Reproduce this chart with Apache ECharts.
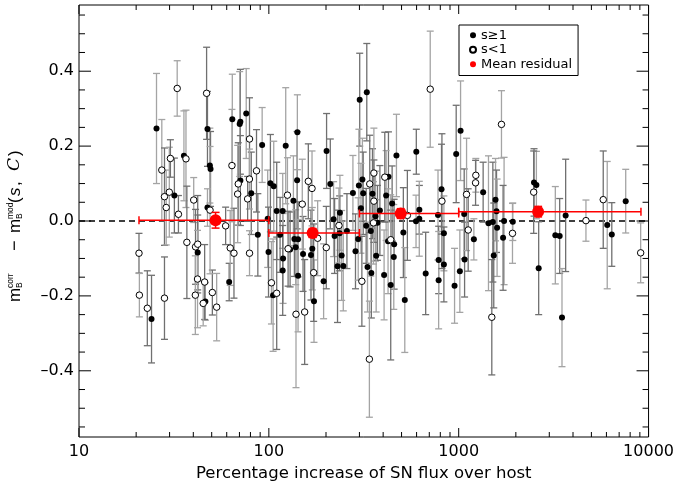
<!DOCTYPE html>
<html><head><meta charset="utf-8">
<script src="https://cdn.jsdelivr.net/npm/echarts@6/dist/echarts.min.js"></script>
<style>html,body{margin:0;padding:0;background:#fff}#c{width:677px;height:487px}</style>
</head><body><div id="c"></div>
<script>
// ---- data: s>=1 (filled) ----
const filledX = [24.1,25.6,31.8,35.7,42.2,46.3,47.5,48.9,49.3,47.5,61.8,64.2,70.8,70.2,70.8,76.0,80.8,92.2,87.5,
 98.6,99.6,105.3,101.9,106.1,110,118.3,114.6,118.8,118.3,122.7,129.4,134.7,136.3,138.5,140.9,141.3,142.5,142.5,151.4,
 169.4,166.7,172.9,201.4,194.3,210.7,219.3,222,236.8,235.9,241.8,230,246.6,257.8,277.2,286,295.6,301,298,
 328,311,314,305.5,325.6,330.9,346.6,344.5,351.4,364.4,373.4,367.5,384.5,404.6,426.6,414.8,446,424.5,457,455,438.5,
 470,511,520,598,596,620.6,620,670,778,784,784,812,835.6,835.6,951,970,
 1023,1069,1014,1074,1202,1345,1435,1513,1563,1582,1593,1530,1734,1713,1927,2493,2566,2638,3228,3403,3500,3659,6058,6403,7580];
const filledY = [-0.262,0.247,0.068,0.174,-0.084,-0.215,0.246,0.148,0.139,0.036,-0.163,0.272,0.265,0.259,0.108,0.287,0.074,0.203,-0.037,
 0.006,-0.083,-0.198,0.101,0.093,0.027,0.027,-0.037,-0.100,-0.132,0.201,-0.076,0.054,-0.048,-0.070,0.109,0.237,-0.049,-0.146,-0.088,
 -0.074,-0.091,-0.214,0.187,-0.161,0.099,0.005,-0.040,0.022,-0.033,-0.092,-0.121,-0.120,-0.027,0.075,-0.081,-0.048,0.324,0.095,
 0.344,0.111,0.074,0.034,-0.013,-0.123,-0.139,-0.027,0.073,0.013,-0.005,-0.093,0.028,-0.144,0.118,0.068,0.047,-0.054,-0.062,-0.096,-0.171,
 0.175,-0.031,-0.211,0.185,-0.001,0.030,0.006,-0.140,0.016,-0.104,-0.158,0.085,-0.033,-0.116,-0.173,0.179,
 0.241,0.019,-0.134,-0.103,-0.049,0.077,-0.006,-0.003,0.057,0.026,-0.018,-0.092,0.000,-0.045,-0.002,0.103,0.096,-0.126,-0.038,-0.040,-0.258,0.015,-0.011,-0.036,0.053];
const filledErr = [0.117,0.147,0.10,0.12,0.10,0.05,0.10,0.10,0.10,0.05,0.05,0.12,0.14,0.14,0.12,0.12,0.11,0.10,0.11,
 0.13,0.12,0.15,0.13,0.12,0.13,0.10,0.10,0.12,0.12,0.155,0.10,0.12,0.10,0.10,0.13,0.10,0.10,0.15,0.10,
 0.11,0.12,0.11,0.10,0.10,0.12,0.10,0.10,0.10,0.10,0.12,0.15,0.12,0.10,0.10,0.10,0.11,0.124,0.15,
 0.13,0.11,0.11,0.12,0.10,0.12,0.12,0.12,0.12,0.12,0.10,0.15,0.12,0.12,0.12,0.12,0.10,0.14,0.12,0.14,0.20,
 0.11,0.12,0.14,0.06,0.07,0.065,0.10,0.11,0.12,0.09,0.13,0.12,0.10,0.10,0.10,0.13,
 0.133,0.12,0.11,0.10,0.055,0.08,0.18,0.16,0.11,0.11,0.13,0.14,0.17,0.14,0.05,0.09,0.09,0.124,0.13,0.10,0.131,0.15,0.17,0.085,0.085];

// ---- data: s<1 (open) ----
const openX = [20.7,20.8,22.9,27.3,28.2,28.8,28.2,29.9,30.3,32.9,33.4,36.6,37.0,40.2,41.1,41.0,42.2,42.1,45.9,45.1,50.4,53.1,47.0,49.0,
 59.2,62.6,65.5,63.9,69.0,68.5,79.1,79.0,77.3,79.1,86.1,
 103.2,110,125.3,126.3,139,154.4,150,161.4,168.8,172.2,180.7,200.7,234,
 309,338.5,340,357.5,357.5,355.7,408,438.5,536.6,708,816,
 1100,1122,1231,1227,1680,1494,1920,2483,4680,5772,9088];
const openY = [-0.086,-0.198,-0.233,0.136,0.065,0.036,-0.206,0.077,0.167,0.354,0.018,0.166,-0.057,0.056,-0.069,-0.198,-0.062,-0.155,-0.163,-0.220,-0.191,-0.230,0.341,0.029,
 -0.013,-0.072,-0.086,0.148,0.099,0.072,0.219,0.112,0.059,-0.086,0.134,
 -0.165,-0.193,0.069,-0.074,-0.249,-0.243,0.045,0.106,0.087,-0.138,-0.046,-0.071,-0.012,
 -0.161,-0.369,0.099,0.128,0.053,-0.005,0.117,-0.050,0.015,0.352,0.053,
 0.071,-0.024,0.122,0.102,0.258,-0.257,-0.033,0.077,0.001,0.057,-0.085];
const openErr = [0.053,0.058,0.10,0.135,0.13,0.10,0.11,0.12,0.05,0.074,0.05,0.13,0.15,0.06,0.10,0.105,0.13,0.13,0.10,0.06,0.06,0.09,0.123,0.17,
 0.05,0.10,0.12,0.15,0.11,0.13,0.11,0.08,0.06,0.06,0.11,
 0.11,0.15,0.10,0.10,0.196,0.14,0.12,0.10,0.10,0.13,0.10,0.11,0.10,
 0.12,0.155,0.13,0.12,0.11,0.11,0.12,0.12,0.12,0.155,0.18,
 0.15,0.11,0.045,0.06,0.09,0.154,0.08,0.11,0.055,0.13,0.08];

// ---- data: mean residual per bin ----
const meanX = [52.4, 170, 495, 2620];
const meanY = [0.002, -0.032, 0.020, 0.025];
const meanYErr = [0.021, 0.012, 0.013, 0.014];
const meanXLo = [20.7, 100, 300, 1000];
const meanXHi = [100, 300, 1000, 9120];

// ---- ticks ----
const xMajorTicks = [10, 100, 1000, 10000];
const xMinorTicks = [20,30,40,50,60,70,80,90,200,300,400,500,600,700,800,900,2000,3000,4000,5000,6000,7000,8000,9000];
const yMajorTicks = [-0.4, -0.2, 0.0, 0.2, 0.4];
const yMinorTicks = [-0.55,-0.5,-0.45,-0.35,-0.3,-0.25,-0.15,-0.1,-0.05,0.05,0.1,0.15,0.25,0.3,0.35,0.45,0.5,0.55];
const Y_MIN = -0.5768, Y_MAX = 0.5768;
const X_MIN = 10, X_MAX = 10000;

function zip(...arrs) { return arrs[0].map((_, i) => arrs.map(a => a[i])); }

function errRender(params, api) {
  const x = api.value(0), y = api.value(1), e = api.value(2);
  const t = api.coord([x, y + e]), b = api.coord([x, y - e]);
  const col = params.dataIndex % 2 ? '#a4a4a4' : '#707070';
  const st = { stroke: col, lineWidth: 1.3 };
  const px = t[0];
  return { type: 'group', children: [
    { type: 'line', shape: { x1: px, y1: t[1], x2: px, y2: b[1] }, style: st },
    { type: 'line', shape: { x1: px - 3.5, y1: t[1], x2: px + 3.5, y2: t[1] }, style: st },
    { type: 'line', shape: { x1: px - 3.5, y1: b[1], x2: px + 3.5, y2: b[1] }, style: st }
  ]};
}

function meanRender(params, api) {
  const x = api.value(0), y = api.value(1), ye = api.value(2), xl = api.value(3), xh = api.value(4);
  const L = api.coord([xl, y]), H = api.coord([xh, y]);
  const T = api.coord([x, y + ye]), B = api.coord([x, y - ye]);
  const st = { stroke: '#ff0000', lineWidth: 1.5 };
  return { type: 'group', children: [
    { type: 'line', shape: { x1: L[0], y1: L[1], x2: H[0], y2: H[1] }, style: st },
    { type: 'line', shape: { x1: L[0], y1: L[1] - 4, x2: L[0], y2: L[1] + 4 }, style: st },
    { type: 'line', shape: { x1: H[0], y1: H[1] - 4, x2: H[0], y2: H[1] + 4 }, style: st },
    { type: 'line', shape: { x1: T[0], y1: T[1], x2: B[0], y2: B[1] }, style: st },
    { type: 'line', shape: { x1: T[0] - 4, y1: T[1], x2: T[0] + 4, y2: T[1] }, style: st },
    { type: 'line', shape: { x1: B[0] - 4, y1: B[1], x2: B[0] + 4, y2: B[1] }, style: st }
  ]};
}

function fmtY(v) {
  const s = Math.abs(v).toFixed(1);
  return v < -1e-9 ? '\u2013' + s : s;
}

function tickRender(params, api) {
  const kind = api.value(2);
  const cs = params.coordSys;
  const st = { stroke: '#000', lineWidth: 1 };
  const left = cs.x, right = cs.x + cs.width, top = cs.y, bottom = cs.y + cs.height;
  if (kind < 2) {
    const px = api.coord([api.value(0), 0])[0];
    const len = kind === 0 ? 9 : 5;
    return { type: 'group', children: [
      { type: 'line', shape: { x1: px, y1: bottom, x2: px, y2: bottom - len }, style: st },
      { type: 'line', shape: { x1: px, y1: top, x2: px, y2: top + len }, style: st }
    ]};
  }
  const v = api.value(1);
  const py = api.coord([X_MIN, v])[1];
  const len = kind === 2 ? 12 : 6;
  const ch = [
    { type: 'line', shape: { x1: left, y1: py, x2: left + len, y2: py }, style: st },
    { type: 'line', shape: { x1: right, y1: py, x2: right - len, y2: py }, style: st }
  ];
  if (kind === 2) {
    ch.push({ type: 'text', x: left - 5, y: py, style: { text: fmtY(v), align: 'right', verticalAlign: 'middle',
      textAlign: 'right', textVerticalAlign: 'middle', fontSize: 16, fontFamily: 'DejaVu Sans', fill: '#000' } });
  }
  return { type: 'group', children: ch };
}

const tickData = xMajorTicks.map(v => [v, 0, 0])
  .concat(xMinorTicks.map(v => [v, 0, 1]))
  .concat(yMajorTicks.map(v => [X_MIN, v, 2]))
  .concat(yMinorTicks.map(v => [X_MIN, v, 3]));

// y-axis title pieces (rotated group)
function tpiece(text, x, base, fs, opts) {
  opts = opts || {};
  return { type: 'text', x: x, y: base - 0.35 * fs,
    style: Object.assign({ text: text, fontSize: fs, fontFamily: 'Liberation Sans', fill: '#000',
      align: 'left', verticalAlign: 'middle', textAlign: 'left', textVerticalAlign: 'middle' }, opts) };
}

const chart = echarts.init(document.getElementById('c'), null, { renderer: 'canvas' });
chart.setOption({
  animation: false,
  backgroundColor: '#fff',
  grid: { left: 79, right: 27, top: 5, bottom: 50, show: true, borderColor: '#000', borderWidth: 1, backgroundColor: 'transparent' },
  xAxis: {
    type: 'log', logBase: 10, min: X_MIN, max: X_MAX,
    axisLine: { show: false }, axisTick: { show: false }, splitLine: { show: false },
    axisLabel: { fontFamily: 'DejaVu Sans', fontSize: 16, color: '#000', margin: 7, formatter: v => String(Math.round(v)) },
    name: 'Percentage increase of SN flux over host', nameLocation: 'middle', nameGap: 26,
    nameTextStyle: { fontFamily: 'DejaVu Sans', fontSize: 16.5, color: '#000' }
  },
  yAxis: {
    type: 'value', min: Y_MIN, max: Y_MAX,
    axisLine: { show: false }, axisTick: { show: false }, splitLine: { show: false },
    axisLabel: { show: false }
  },
  legend: {
    left: 459, top: 25, orient: 'vertical', selectedMode: false,
    padding: [3, 6, 4, 10], itemGap: 0, itemWidth: 6, itemHeight: 6,
    borderColor: '#000', borderWidth: 1, backgroundColor: '#fff',
    textStyle: { fontFamily: 'DejaVu Sans', fontSize: 13, color: '#000', lineHeight: 14.5 },
    data: [{ name: 's\u22651', icon: 'circle' }, { name: 's<1', icon: 'circle' }, { name: 'Mean residual', icon: 'circle' }]
  },
  graphic: [{
    type: 'group', x: 21, y: 302, rotation: Math.PI / 2, silent: true,
    children: [
      tpiece('m', 0, 0, 17),
      tpiece('corr', 14, -7.5, 8.5),
      tpiece('B', 14, 1.5, 8.5),
      tpiece('\u2212', 51, 0, 18),
      tpiece('m', 69, 0, 17),
      tpiece('mod', 83, -7.5, 8.5),
      tpiece('B', 83, 1.5, 8.5),
      tpiece('(', 99, 0, 17),
      tpiece('s', 106, 0, 17, { fontStyle: 'italic' }),
      tpiece(',', 116, 0, 17),
      tpiece('C', 131, 0, 17, { fontStyle: 'italic', fontFamily: 'DejaVu Serif' }),
      tpiece(')', 146, 0, 17)
    ]
  }],
  series: [
    { type: 'line', data: [[X_MIN, 0], [X_MAX, 0]], symbol: 'none', silent: true, z: 1,
      lineStyle: { color: '#000', width: 1.3, type: [6, 4] } },
    { type: 'custom', renderItem: errRender, data: zip(filledX, filledY, filledErr), silent: true, z: 2,
      encode: { x: 0, y: 1 } },
    { type: 'custom', renderItem: errRender, data: zip(openX, openY, openErr), silent: true, z: 2,
      encode: { x: 0, y: 1 } },
    { name: 's\u22651', type: 'scatter', data: zip(filledX, filledY), symbol: 'circle', symbolSize: 6, z: 3,
      itemStyle: { color: '#000', opacity: 1 }, silent: true },
    { name: 's<1', type: 'scatter', data: zip(openX, openY), symbol: 'circle', symbolSize: 6.5, z: 3,
      itemStyle: { color: '#fff', borderColor: '#000', borderWidth: 1, opacity: 1 }, silent: true },
    { type: 'custom', renderItem: meanRender, data: zip(meanX, meanY, meanYErr, meanXLo, meanXHi), silent: true, z: 4,
      encode: { x: 0, y: 1 } },
    { name: 'Mean residual', type: 'scatter', data: zip(meanX, meanY), symbol: 'circle', symbolSize: 12, z: 5,
      itemStyle: { color: '#ff0000', opacity: 1 }, silent: true },
    { type: 'custom', renderItem: tickRender, data: tickData, silent: true, z: 6, clip: false,
      encode: { x: 0, y: 1 } }
  ]
});
</script>
</body></html>
